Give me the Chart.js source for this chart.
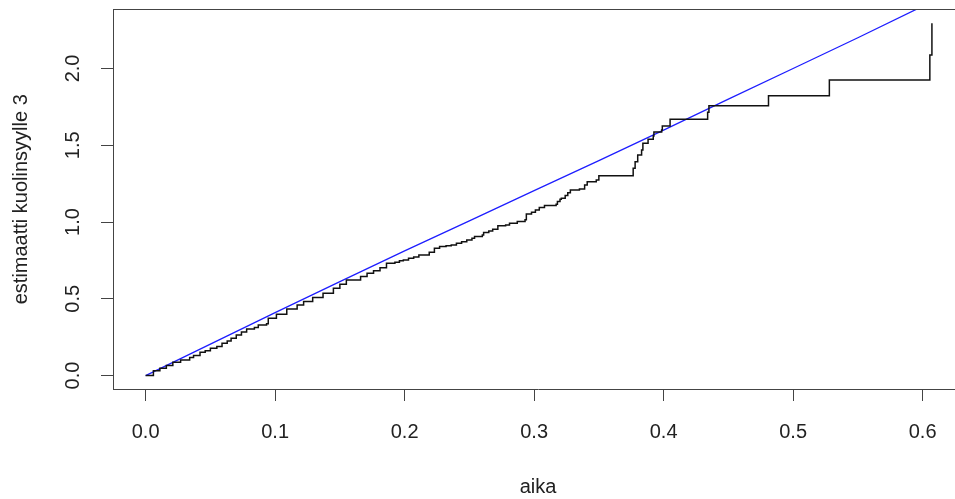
<!DOCTYPE html>
<html>
<head>
<meta charset="utf-8">
<script src="https://cdn.jsdelivr.net/npm/chart.js@4.4.0/dist/chart.umd.min.js"></script>
<style>
html, body { margin: 0; padding: 0; background: #fff; overflow: hidden; }
canvas { display: block; }
</style>
</head>
<body>
<canvas id="myChart" width="963" height="499"></canvas>
<script>
// Nelson-Aalen style step estimate (black)
const stepTimes = [0, 0.006, 0.011, 0.016, 0.021, 0.027, 0.034, 0.037, 0.042, 0.046,
    0.050, 0.055, 0.059, 0.063, 0.066, 0.070, 0.074, 0.078, 0.084, 0.087,
    0.0934, 0.0947, 0.101, 0.109, 0.117, 0.122, 0.129, 0.137, 0.145, 0.150,
    0.155, 0.166, 0.171, 0.176, 0.181, 0.186, 0.1925, 0.196, 0.199, 0.203,
    0.207, 0.211, 0.219, 0.223, 0.227, 0.232, 0.236, 0.240, 0.244, 0.248,
    0.252, 0.254, 0.260, 0.261, 0.265, 0.268, 0.272, 0.278, 0.281, 0.287,
    0.293, 0.294, 0.298, 0.301, 0.304, 0.308, 0.317, 0.318, 0.320, 0.321,
    0.324, 0.326, 0.328, 0.335, 0.339, 0.341, 0.348, 0.350, 0.3765, 0.378,
    0.380, 0.383, 0.384, 0.388, 0.392, 0.3925, 0.3985, 0.399, 0.405, 0.434,
    0.435, 0.481, 0.528, 0.6056, 0.6072];
const stepHaz = [0, 0.031, 0.048, 0.065, 0.087, 0.102, 0.117, 0.130, 0.152, 0.161,
    0.178, 0.189, 0.211, 0.226, 0.243, 0.265, 0.283, 0.304, 0.313, 0.330,
    0.337, 0.374, 0.400, 0.434, 0.460, 0.482, 0.508, 0.536, 0.569, 0.595,
    0.623, 0.645, 0.667, 0.682, 0.703, 0.732, 0.738, 0.747, 0.753, 0.764,
    0.773, 0.786, 0.803, 0.829, 0.840, 0.846, 0.851, 0.862, 0.872, 0.883,
    0.894, 0.905, 0.916, 0.931, 0.942, 0.953, 0.975, 0.981, 0.992, 1.003,
    1.014, 1.053, 1.064, 1.079, 1.094, 1.107, 1.116, 1.133, 1.148, 1.155,
    1.172, 1.191, 1.209, 1.215, 1.241, 1.263, 1.274, 1.302, 1.350, 1.393,
    1.437, 1.469, 1.513, 1.539, 1.561, 1.587, 1.600, 1.626, 1.669, 1.715,
    1.758, 1.823, 1.925, 2.088, 2.294];

// fitted cumulative hazard (blue)
const fitTimes = [0, 0.05, 0.1, 0.15, 0.2, 0.25, 0.3, 0.35, 0.4, 0.45, 0.5, 0.55, 0.6, 0.63];
const fitHaz = [0, 0.205, 0.41, 0.612, 0.812, 1.008, 1.204, 1.40, 1.598, 1.80, 2.0, 2.20, 2.405, 2.53];

const xTicks = [0, 0.1, 0.2, 0.3, 0.4, 0.5, 0.6];
const yTicks = [0, 0.5, 1.0, 1.5, 2.0];

const axisColor = '#444';
const textColor = '#222';
const fontFamily = '"Liberation Sans", Arial, sans-serif';

const boxTop = {
    id: 'boxTop',
    afterDraw(chart) {
        const { ctx, chartArea } = chart;
        ctx.save();
        ctx.strokeStyle = axisColor;
        ctx.lineWidth = 1;
        ctx.beginPath();
        ctx.moveTo(chartArea.left, chartArea.top);
        ctx.lineTo(chartArea.right, chartArea.top);
        ctx.stroke();
        ctx.restore();
    }
};

const ctx = document.getElementById('myChart').getContext('2d');
new Chart(ctx, {
    type: 'line',
    data: {
        datasets: [{
            data: stepTimes.map((t, i) => ({ x: t, y: stepHaz[i] })),
            borderColor: '#111',
            borderWidth: 1.5,
            stepped: 'before',
            pointRadius: 0,
            fill: false
        }, {
            data: fitTimes.map((t, i) => ({ x: t, y: fitHaz[i] })),
            borderColor: 'rgb(30,30,255)',
            borderWidth: 1.3,
            pointRadius: 0,
            fill: false
        }]
    },
    options: {
        responsive: false,
        animation: false,
        layout: { padding: { top: 9.5, left: 0, right: 0, bottom: 0 } },
        plugins: {
            legend: { display: false },
            tooltip: { enabled: false }
        },
        scales: {
            x: {
                type: 'linear',
                min: -0.0252,
                max: 0.6312,
                afterBuildTicks: s => { s.ticks = xTicks.map(v => ({ value: v })); },
                afterFit: s => { s.height = 110; s.paddingLeft = 0; s.paddingRight = 0; },
                grid: { drawOnChartArea: false, tickLength: 12, color: axisColor, tickColor: axisColor },
                border: { color: axisColor, width: 1 },
                ticks: {
                    padding: 19,
                    color: textColor,
                    font: { family: fontFamily, size: 20 },
                    maxRotation: 0,
                    callback: v => v.toFixed(1)
                },
                title: {
                    display: true,
                    text: 'aika',
                    color: textColor,
                    font: { family: fontFamily, size: 20 },
                    padding: { top: 0, bottom: 0 }
                }
            },
            y: {
                type: 'linear',
                min: -0.0874,
                max: 2.384,
                afterBuildTicks: s => { s.ticks = yTicks.map(v => ({ value: v })); },
                afterFit: s => { s.width = 113; s.paddingTop = 0; s.paddingBottom = 0; },
                grid: { drawOnChartArea: false, tickLength: 12, color: axisColor, tickColor: axisColor },
                border: { color: axisColor, width: 1 },
                ticks: {
                    padding: 14,
                    minRotation: 90,
                    maxRotation: 90,
                    crossAlign: 'center',
                    color: textColor,
                    font: { family: fontFamily, size: 20 },
                    callback: v => v.toFixed(1)
                },
                title: {
                    display: true,
                    text: 'estimaatti kuolinsyylle 3',
                    color: textColor,
                    font: { family: fontFamily, size: 20 },
                    padding: { top: 9, bottom: 0 }
                }
            }
        }
    },
    plugins: [boxTop]
});
</script>
</body>
</html>
